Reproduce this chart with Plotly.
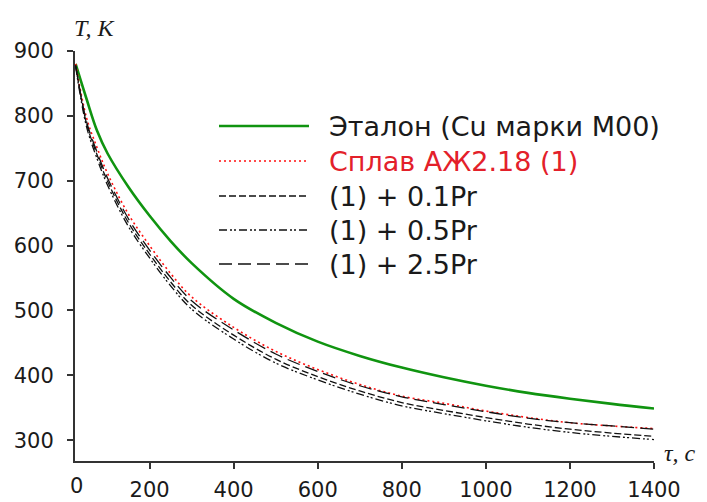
import plotly.graph_objects as go

# time, s
t = [24, 50, 75, 100, 150, 200, 250, 300, 400, 500, 600, 700, 800, 900, 1000, 1100, 1200, 1300, 1400]

# temperature, K
T_etalon = [880, 826, 777, 742, 690, 646, 607, 573, 518, 481, 452, 430, 412, 397, 384, 373, 364, 356, 349]
T_alloy  = [880, 797, 751, 711, 648, 600, 557, 521, 474, 437, 409, 386, 368, 357, 345, 335, 327, 322, 318]
T_pr01   = [878, 788, 740, 699, 635, 587, 544, 508, 462, 425, 398, 376, 358, 346, 335, 325, 317, 311, 306]
T_pr05   = [876, 783, 734, 693, 629, 581, 538, 502, 456, 419, 393, 371, 353, 341, 330, 320, 312, 306, 301]
T_pr25   = [878, 791, 744, 704, 641, 593, 551, 515, 470, 433, 406, 384, 367, 355, 344, 334, 327, 322, 317]

names = ["Эталон (Cu марки М00)", "Сплав АЖ2.18 (1)", "(1) + 0.1Pr", "(1) + 0.5Pr", "(1) + 2.5Pr"]
series = [T_etalon, T_alloy, T_pr01, T_pr05, T_pr25]

x_ticks = [200, 400, 600, 800, 1000, 1200, 1400]
y_ticks = [300, 400, 500, 600, 700, 800, 900]

styles = [
    dict(color="#109410", width=2.6, dash="solid"),
    dict(color="#ff1010", width=1.6, dash="2px,3px"),
    dict(color="#111111", width=1.3, dash="7px,3px"),
    dict(color="#111111", width=1.3, dash="8px,3px,2px,2px,2px,3px"),
    dict(color="#111111", width=1.3, dash="13px,6px"),
]
text_colors = ["#1a1a1a", "#e3202a", "#1a1a1a", "#1a1a1a", "#1a1a1a"]

fig = go.Figure()
for name, ys, st in zip(names, series, styles):
    fig.add_trace(go.Scatter(x=t, y=ys, mode="lines", name=name,
                             line=dict(shape="spline", smoothing=1.0, **st), showlegend=False))

# custom legend (long line samples)
W, H = 579.0, 410.0
def px(x):
    return (x - 75) / W
def py(y):
    return (461 - y) / H

row_y = [126, 161, 196, 230, 264]
for i, (name, st, tc) in enumerate(zip(names, styles, text_colors)):
    yy = py(row_y[i])
    fig.add_shape(type="line", xref="paper", yref="paper", x0=px(219), x1=px(309), y0=yy, y1=yy,
                  line=dict(color=st["color"], width=st["width"], dash=st["dash"]))
    fig.add_annotation(xref="paper", yref="paper", x=px(327), y=yy, text=name, showarrow=False,
                       xanchor="left", yanchor="middle", font=dict(family="DejaVu Sans", size=27, color=tc))

fig.add_annotation(xref="paper", yref="paper", x=px(95), y=py(28), text="<i>T, K</i>", showarrow=False,
                   xanchor="center", yanchor="middle", font=dict(family="Liberation Serif", size=24, color="#1a1a1a"))
fig.add_annotation(xref="paper", yref="paper", x=px(680), y=py(453), text="<i>τ, c</i>", showarrow=False,
                   xanchor="center", yanchor="middle", font=dict(family="Liberation Serif", size=24, color="#1a1a1a"))
fig.add_annotation(xref="paper", yref="paper", x=px(76), y=py(486), text="0", showarrow=False,
                   xanchor="center", yanchor="middle", font=dict(family="DejaVu Sans", size=21, color="#1a1a1a"))

fig.update_layout(
    width=707, height=502,
    margin=dict(l=75, r=53, t=51, b=41, autoexpand=False),
    plot_bgcolor="white", paper_bgcolor="white",
    font=dict(family="DejaVu Sans", size=21, color="#1a1a1a"),
)
fig.update_xaxes(range=[22.5, 1400], tickvals=x_ticks, ticktext=[str(v) for v in x_ticks], automargin=False,
                 showgrid=False, zeroline=False, showline=True, linecolor="#333333", linewidth=2,
                 ticks="outside", ticklen=6, tickwidth=2, tickcolor="#333333", ticklabelstandoff=3)
fig.update_yaxes(range=[268, 900], tickvals=y_ticks, ticktext=[str(v) for v in y_ticks], automargin=False,
                 showgrid=False, zeroline=False, showline=True, linecolor="#333333", linewidth=2,
                 ticks="outside", ticklen=6, tickwidth=2, tickcolor="#333333", ticklabelstandoff=9)

fig.write_html("out.html", config={"displayModeBar": False},
               post_script="document.body.style.margin='0';document.body.style.overflow='hidden';")
